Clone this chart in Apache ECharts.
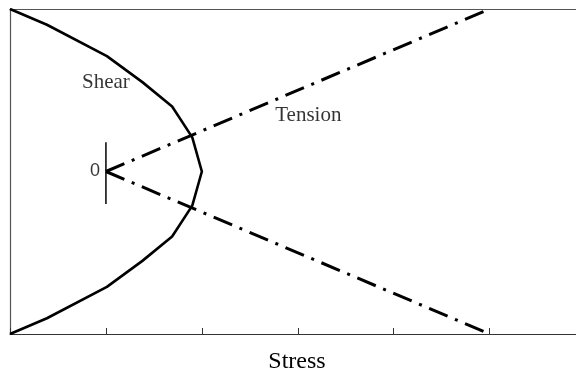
<!DOCTYPE html>
<html>
<head>
<meta charset="utf-8">
<script src="https://cdn.jsdelivr.net/npm/echarts@6/dist/echarts.min.js"></script>
<style>
  html, body { margin: 0; padding: 0; background: #fff; }
  #chart { width: 576px; height: 379px; }
</style>
</head>
<body>
<div id="chart"></div>
<script>
// Shear envelope (stress, offset) traced top to bottom
const shearStress = [0, 0.385, 1.01, 1.38, 1.69, 1.90, 2.0, 1.90, 1.69, 1.38, 1.01, 0.385, 0];
const shearOffset = [1, 0.903, 0.71, 0.55, 0.40, 0.21, 0, -0.21, -0.40, -0.55, -0.71, -0.903, -1];

// Tension lines from the origin marker
const tensionStress = [1, 5];
const tensionUpper = [0, 1];
const tensionLower = [0, -1];

// Origin marker
const originStress = 1;
const originMarkerSpan = [0.18, -0.2];

const chart = echarts.init(document.getElementById('chart'));

const pairs = (xs, ys) => xs.map((x, i) => [x, ys[i]]);
const dashDot = [20, 8, 3, 8];

chart.setOption({
  animation: false,
  grid: { left: 10, top: 9, right: 0, bottom: 39 },
  xAxis: [{
    type: 'value', min: 0, max: 5.9, interval: 1,
    axisLine: { show: true, onZero: false, lineStyle: { color: '#333', width: 1.2 } },
    axisTick: { show: true, inside: true, length: 6, lineStyle: { color: '#333' } },
    axisLabel: { show: false },
    splitLine: { show: false },
    name: 'Stress', nameLocation: 'middle', nameGap: 16,
    nameTextStyle: { fontFamily: 'Liberation Serif', fontSize: 24, color: '#000', padding: [0, 0, 0, 8] }
  }, {
    type: 'value', position: 'top', min: 0, max: 5.9,
    axisLine: { show: true, onZero: false, lineStyle: { color: '#555', width: 1.2 } },
    axisTick: { show: false }, axisLabel: { show: false }, splitLine: { show: false }
  }],
  yAxis: {
    type: 'value', min: -1, max: 1,
    axisLine: { show: true, onZero: false, lineStyle: { color: '#555', width: 1.2 } },
    axisTick: { show: false }, axisLabel: { show: false }, splitLine: { show: false }
  },
  series: [
    {
      name: 'Shear', type: 'line', showSymbol: false,
      data: pairs(shearStress, shearOffset),
      lineStyle: { color: '#000', width: 2.6 }
    },
    {
      name: 'Tension upper', type: 'line', showSymbol: false,
      data: pairs(tensionStress, tensionUpper),
      lineStyle: { color: '#000', width: 3, type: dashDot }
    },
    {
      name: 'Tension lower', type: 'line', showSymbol: false,
      data: pairs(tensionStress, tensionLower),
      lineStyle: { color: '#000', width: 3, type: dashDot }
    },
    {
      name: 'Origin', type: 'line', showSymbol: false,
      data: originMarkerSpan.map(v => [originStress, v]),
      lineStyle: { color: '#000', width: 1.5 }
    },
    {
      type: 'scatter', symbolSize: 0, silent: true,
      data: [
        { value: [1.0, 0.545], label: { formatter: 'Shear', fontFamily: 'Liberation Serif', fontSize: 21, color: '#000' } },
        { value: [3.11, 0.345], label: { formatter: 'Tension', fontFamily: 'Liberation Serif', fontSize: 21, color: '#000' } },
        { value: [0.885, 0.005], label: { formatter: '0', fontFamily: 'Liberation Sans', fontSize: 18, color: '#000' } }
      ],
      label: { show: true, position: 'inside', color: '#000' }
    }
  ]
});
</script>
</body>
</html>
